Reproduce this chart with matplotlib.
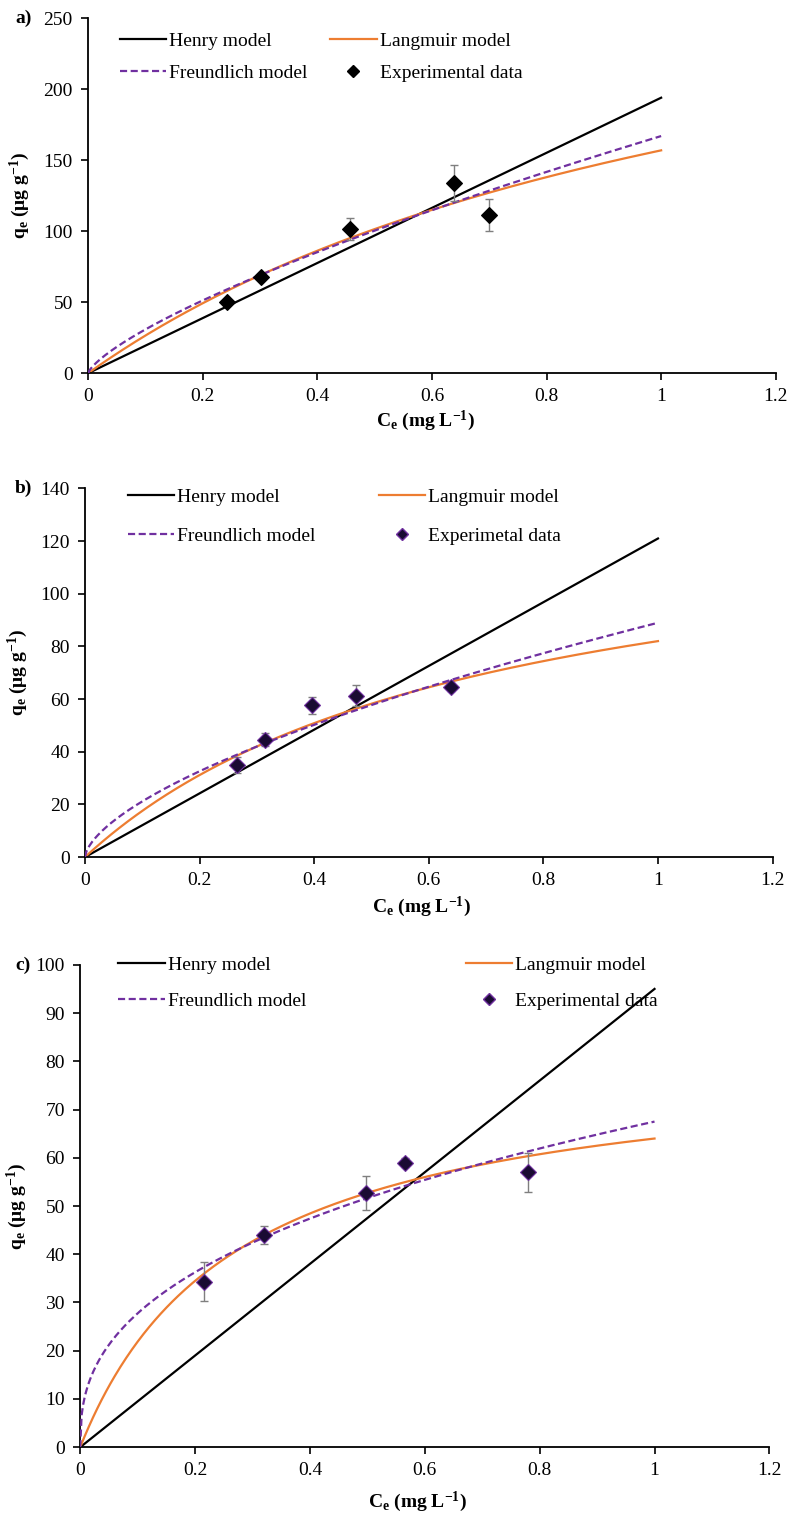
import numpy as np
import matplotlib.pyplot as plt
from matplotlib.lines import Line2D

plt.rcParams["font.family"] = ["Liberation Serif", "DejaVu Serif"]
plt.rcParams["mathtext.fontset"] = "custom"
plt.rcParams["mathtext.rm"] = "Liberation Serif"
plt.rcParams["mathtext.bf"] = "Liberation Serif:bold"
plt.rcParams["mathtext.it"] = "Liberation Serif:italic"

ce_a = [0.243, 0.301, 0.457, 0.638, 0.700]
qe_a = [49.8, 67.5, 101.5, 134.0, 111.5]
err_a = [1.5, 1.5, 8.0, 12.7, 11.5]

ce_b = [0.265, 0.314, 0.397, 0.473, 0.638]
qe_b = [35.0, 44.6, 57.6, 61.3, 64.5]
err_b = [3.0, 2.4, 3.2, 4.0, 1.5]

ce_c = [0.215, 0.320, 0.497, 0.565, 0.780]
qe_c = [34.3, 44.0, 52.7, 59.0, 57.0]
err_c = [4.0, 1.8, 3.6, 1.0, 4.0]

# fitted isotherm parameters: Henry K, Langmuir (qmax, KL), Freundlich (KF, 1/n)
henry_k = [194.0, 121.0, 95.0]
langmuir = [(346.0, 0.83), (138.6, 1.45), (81.4, 3.675)]
freundlich = [(167.0, 0.734), (89.0, 0.624), (67.5, 0.386)]

data_labels = ["Experimental data", "Experimetal data", "Experimental data"]
panel_letters = ["a)", "b)", "c)"]
y_max = [250, 140, 100]
y_step = [50, 20, 10]

ORANGE = "#ED7D31"
PURPLE = "#7030A0"

fig = plt.figure(figsize=(7.94, 15.17), dpi=100)
positions = [
    [0.111, 0.754, 0.866, 0.234],
    [0.107, 0.435, 0.866, 0.243],
    [0.101, 0.046, 0.868, 0.318],
]
marker_face = ["black", "#1a0b33", "#1a0b33"]
marker_edge = ["black", PURPLE, PURPLE]
leg_anchor = [(0.046, 0.96), (0.062, 1.0), (0.055, 1.017)]
leg_colspace = [1.15, 3.25, 8.2]
leg_rowspace = [0.75, 1.1, 0.95]
ylab_x = [-0.081, -0.08, -0.075]
xlab_y = [-0.10, -0.103, -0.089]
letter_xy = [(15, 18), (15, 488), (15, 965)]

ce_all = [ce_a, ce_b, ce_c]
qe_all = [qe_a, qe_b, qe_c]
err_all = [err_a, err_b, err_c]

c = np.linspace(0, 1, 400)

for i in range(3):
    ax = fig.add_axes(positions[i])
    qm, kl = langmuir[i]
    kf, inv_n = freundlich[i]

    ax.plot(c, henry_k[i] * c, color="black", lw=1.6, zorder=2)
    ax.plot(c, qm * kl * c / (1 + kl * c), color=ORANGE, lw=1.6, zorder=2)
    ax.plot(c, kf * c ** inv_n, color=PURPLE, lw=1.6, ls=(0, (3.2, 1.6)), zorder=3)
    ax.errorbar(ce_all[i], qe_all[i], yerr=err_all[i], fmt="none",
                ecolor="#7f7f7f", elinewidth=1.0, capsize=3, zorder=4)
    ax.plot(ce_all[i], qe_all[i], "D", ms=8, mfc=marker_face[i],
            mec=marker_edge[i], mew=0.8, zorder=5)

    ax.set_xlim(0, 1.2)
    ax.set_ylim(0, y_max[i])
    ax.set_xticks(np.arange(0, 1.21, 0.2))
    ax.set_xticklabels(["0", "0.2", "0.4", "0.6", "0.8", "1", "1.2"])
    ax.set_yticks(np.arange(0, y_max[i] + 1, y_step[i]))
    for s in ["top", "right"]:
        ax.spines[s].set_visible(False)
    for s in ["left", "bottom"]:
        ax.spines[s].set_linewidth(1.3)
    ax.tick_params(direction="out", length=5, width=1.2, labelsize=14, pad=6)

    ax.set_ylabel(r"q$_\mathbf{e}$ (μg g$^\mathbf{-1}$)", fontsize=14, fontweight="bold")
    ax.yaxis.set_label_coords(ylab_x[i], 0.5)
    ax.set_xlabel(r"C$_\mathbf{e}$ (mg L$^\mathbf{-1}$)", fontsize=14, fontweight="bold")
    ax.xaxis.set_label_coords(0.49, xlab_y[i])

    handles = [
        Line2D([], [], color="black", lw=1.6),
        Line2D([], [], color=PURPLE, lw=1.6, ls=(0, (3.2, 1.6))),
        Line2D([], [], color=ORANGE, lw=1.6),
        Line2D([], [], ls="none", marker="D", ms=6, mfc=marker_face[i], mec=marker_edge[i]),
    ]
    labels = ["Henry model", "Freundlich model", "Langmuir model", data_labels[i]]
    ax.legend(handles, labels, ncol=2, frameon=False, loc="upper left",
              bbox_to_anchor=leg_anchor[i], borderaxespad=0, borderpad=0,
              handlelength=2.4, handletextpad=0.15, columnspacing=leg_colspace[i],
              labelspacing=leg_rowspace[i], fontsize=14)

    fig.text(letter_xy[i][0] / 794, 1 - letter_xy[i][1] / 1517, panel_letters[i],
             fontsize=14, fontweight="bold", ha="left", va="center")

fig.savefig("out.png", dpi=100)
